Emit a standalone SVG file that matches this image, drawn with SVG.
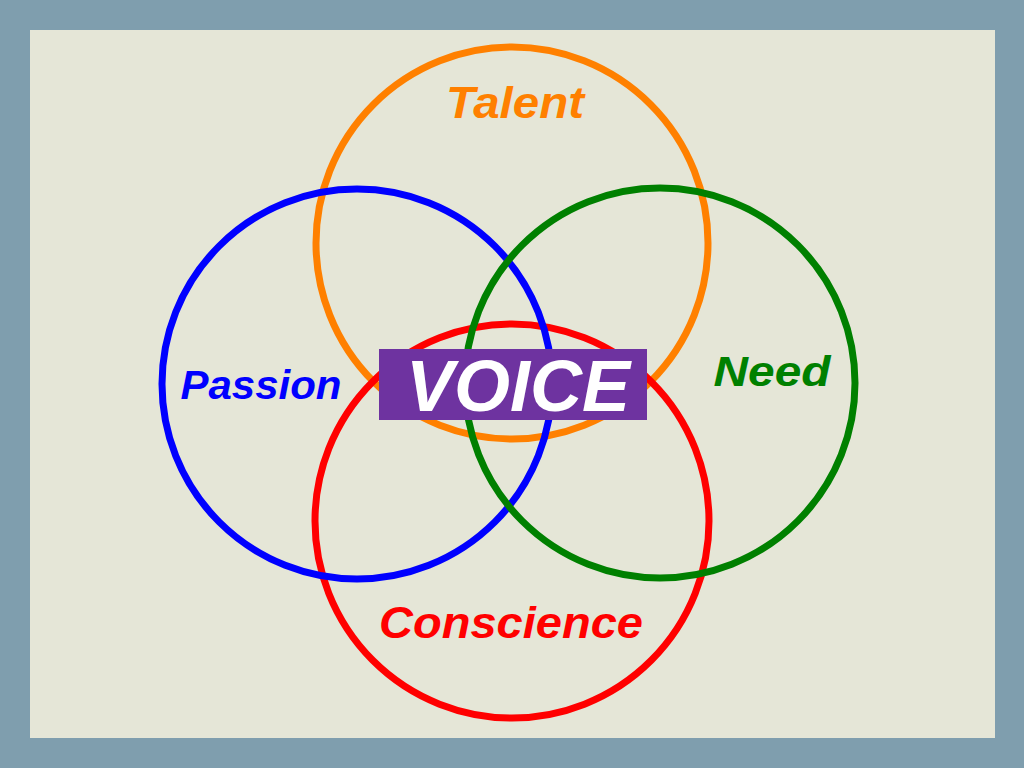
<svg xmlns="http://www.w3.org/2000/svg" width="1024" height="768" viewBox="0 0 1024 768">
<style>
.ring{fill:none;stroke-width:7}
.lbl{font-family:"Liberation Sans",Arial,sans-serif;font-weight:bold;font-style:italic;text-anchor:middle}
</style>
<rect x="0" y="0" width="1024" height="768" fill="#7f9eae"/>
<rect x="30" y="30" width="965" height="708" fill="#e5e6d7"/>
<g id="talent">
<circle class="ring" cx="512" cy="243" r="196" stroke="#ff8000"/>
<text class="lbl" x="515" y="118" font-size="45" textLength="138" lengthAdjust="spacingAndGlyphs" fill="#ff8000">Talent</text>
</g>
<g id="conscience">
<circle class="ring" cx="512" cy="521" r="197" stroke="#ff0000"/>
<text class="lbl" x="511" y="638" font-size="45" textLength="264" lengthAdjust="spacingAndGlyphs" fill="#ff0000">Conscience</text>
</g>
<g id="passion">
<circle class="ring" cx="357" cy="384" r="195" stroke="#0000ff"/>
<text class="lbl" x="261" y="399" font-size="41" textLength="161" lengthAdjust="spacingAndGlyphs" fill="#0000ff">Passion</text>
</g>
<g id="need">
<circle class="ring" cx="660" cy="383" r="195" stroke="#008000"/>
<text class="lbl" x="772" y="386" font-size="43" textLength="117" lengthAdjust="spacingAndGlyphs" fill="#008000">Need</text>
</g>
<g id="voice">
<rect x="379" y="349" width="268" height="71" fill="#6e33a0"/>
<text class="lbl" x="518" y="411" font-size="72" fill="#ffffff">VOICE</text>
</g>
</svg>
